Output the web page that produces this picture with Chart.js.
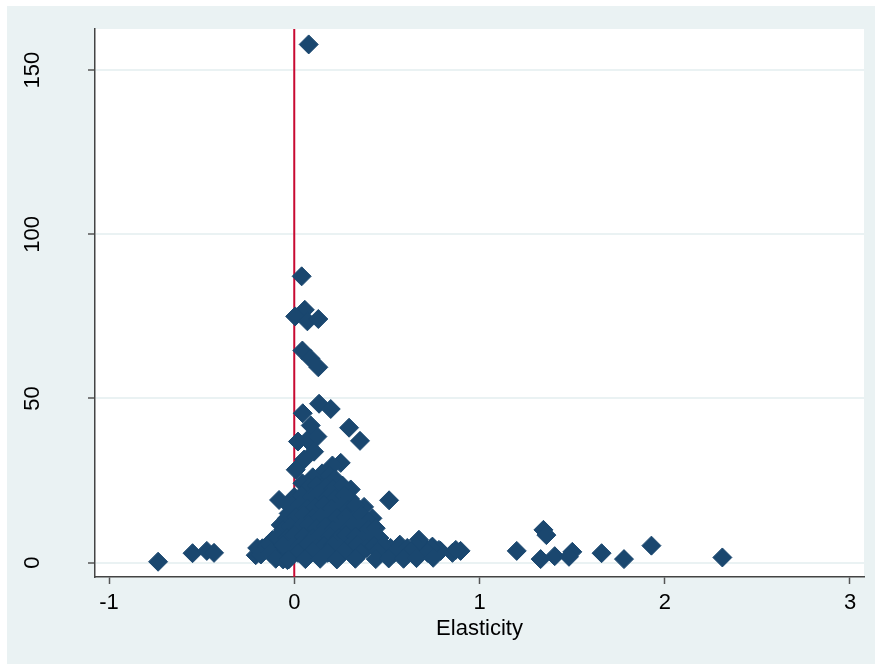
<!DOCTYPE html>
<html>
<head>
<meta charset="utf-8">
<script src="https://cdn.jsdelivr.net/npm/chart.js@4/dist/chart.umd.min.js"></script>
<style>
  html, body { margin: 0; padding: 0; background: #ffffff; }
  #wrap { width: 875px; height: 664px; }
</style>
</head>
<body>
<div id="wrap"><canvas id="c" width="875" height="664"></canvas></div>
<script>
// Elasticity (x) values
const elasticity = [
  0.078, 0.040, 0.057, 0.005, 0.071, 0.130, 0.044, 0.087, 0.130, 0.134,
  0.197, 0.046, 0.089, 0.296, 0.355, 0.071, 0.020, 0.125, 0.107, 0.053,
  0.008, 0.251, 0.206, 0.150, 0.044, 0.305, 0.512, 0.377, 0.422, -0.082,
  -0.073, -0.030,
  -0.735, -0.549, -0.472, -0.433, -0.208, -0.172, -0.118, -0.091, -0.037, -0.136, -0.118, -0.060,
  1.201, 1.345, 1.361, 1.330, 1.406, 1.501, 1.483, 1.659, 1.780, 1.928, 2.311,
  0.898, 0.854, 0.790, 0.683, 0.746, 0.673, 0.781, 0.872,
  0.10, 0.19, 0.22,
  0.08, 0.12, 0.17, 0.21, 0.26,
  0.00, 0.04, 0.09, 0.13, 0.18, 0.22, 0.27, 0.30,
  -0.02, 0.03, 0.07, 0.11, 0.16, 0.20, 0.25, 0.29, 0.33,
  -0.04, 0.01, 0.05, 0.10, 0.14, 0.19, 0.23, 0.28, 0.32, 0.36, 0.40,
  -0.06, -0.02, 0.03, 0.08, 0.12, 0.17, 0.21, 0.26, 0.30, 0.35, 0.40, 0.44,
  -0.09, -0.04, 0.00, 0.05, 0.10, 0.14, 0.19, 0.24, 0.28, 0.33, 0.37, 0.42, 0.46,
  -0.20, -0.15, -0.06, -0.02, 0.03, 0.07, 0.12, 0.16, 0.21, 0.25, 0.30, 0.34, 0.39, 0.43, 0.48, 0.52, 0.57, 0.61, 0.66, 0.70, 0.74,
  -0.18, -0.13, 0.02, 0.10, 0.18, 0.27, 0.36, 0.45, 0.54, 0.63, 0.72,
  -0.10, -0.03, 0.06, 0.14, 0.23, 0.33, 0.44, 0.51, 0.59, 0.66, 0.75
];
// Outcome (y) values
const outcome = [
  157.8, 87.2, 77.0, 75.0, 73.5, 74.2, 64.6, 62.2, 59.5, 48.4,
  46.8, 45.5, 41.8, 41.1, 37.1, 37.4, 36.9, 38.4, 33.8, 31.4,
  28.3, 30.4, 29.6, 27.2, 24.2, 22.3, 19.0, 17.0, 13.5, 19.1,
  11.5, 15.0,
  0.3, 2.9, 3.6, 3.0, 2.3, 4.4, 5.4, 2.3, 0.8, 3.9, 6.9, 1.0,
  3.6, 10.0, 8.4, 1.1, 2.0, 3.3, 1.8, 2.9, 1.1, 5.2, 1.6,
  3.6, 3.0, 3.6, 5.9, 4.9, 7.0, 3.9, 3.9,
  26.0, 26.5, 25.5,
  23.0, 23.5, 23.0, 22.5, 23.5,
  20.0, 20.5, 20.0, 21.0, 20.0, 19.5, 20.5, 19.5,
  17.0, 17.5, 16.5, 17.0, 17.5, 16.5, 17.0, 16.0, 17.5,
  13.5, 14.0, 14.5, 13.5, 14.0, 14.5, 13.5, 14.0, 13.0, 14.5, 12.5,
  10.0, 11.0, 10.5, 11.5, 10.5, 11.0, 10.0, 11.5, 10.5, 11.0, 10.0, 10.5,
  8.0, 7.5, 8.5, 8.0, 7.5, 8.5, 8.0, 7.5, 8.5, 8.0, 7.0, 8.0, 7.5,
  4.5, 5.0, 5.5, 4.5, 5.0, 5.5, 4.5, 5.0, 5.5, 4.5, 5.0, 5.5, 4.5, 5.0, 5.5, 4.5, 5.5, 4.5, 5.0, 4.0, 4.5,
  2.5, 3.0, 3.0, 3.5, 3.0, 3.5, 3.0, 3.5, 3.0, 3.5, 3.0,
  1.2, 1.0, 1.1, 1.2, 1.0, 1.2, 1.1, 1.3, 1.2, 1.4, 1.5
];
const xTicks = [-1, 0, 1, 2, 3];
const yTicks = [0, 50, 100, 150];
const xTitle = 'Elasticity';
const refLineX = 0;

const points = elasticity.map((e, i) => ({ x: e, y: outcome[i] }));

const FONT = "'Liberation Sans', Arial, sans-serif";
const BG = '#EAF2F3';

const bgPlugin = {
  id: 'bg',
  beforeDraw(chart) {
    const ctx = chart.ctx, a = chart.chartArea;
    ctx.save();
    ctx.fillStyle = '#ffffff';
    ctx.fillRect(0, 0, chart.width, chart.height);
    ctx.fillStyle = BG;
    ctx.fillRect(7, 6, chart.width - 7, chart.height - 6);
    ctx.fillStyle = '#ffffff';
    ctx.fillRect(a.left, a.top, a.right - a.left, a.bottom - a.top);
    ctx.restore();
  }
};

const refLinePlugin = {
  id: 'refline',
  beforeDatasetsDraw(chart) {
    const ctx = chart.ctx, a = chart.chartArea;
    const px = chart.scales.x.getPixelForValue(refLineX);
    ctx.save();
    ctx.strokeStyle = '#C80A32';
    ctx.lineWidth = 2;
    ctx.beginPath();
    ctx.moveTo(px, a.top);
    ctx.lineTo(px, a.bottom);
    ctx.stroke();
    ctx.restore();
  }
};

const yLabelPlugin = {
  id: 'ylabels',
  afterDraw(chart) {
    const ctx = chart.ctx;
    const ys = chart.scales.y;
    ctx.save();
    ctx.fillStyle = '#000000';
    ctx.font = '22px ' + FONT;
    ctx.textAlign = 'center';
    ctx.textBaseline = 'middle';
    yTicks.forEach(v => {
      const py = ys.getPixelForValue(v);
      ctx.save();
      ctx.translate(33, py);
      ctx.rotate(-Math.PI / 2);
      ctx.fillText(String(v), 0, 0);
      ctx.restore();
    });
    ctx.restore();
  }
};

new Chart(document.getElementById('c'), {
  type: 'scatter',
  data: {
    datasets: [{
      data: points,
      pointStyle: 'rectRot',
      pointRadius: 9.5,
      pointHoverRadius: 9.5,
      backgroundColor: '#1A476F',
      borderColor: '#1A476F',
      borderWidth: 1
    }]
  },
  options: {
    responsive: false,
    animation: false,
    events: [],
    layout: { padding: { top: 29, right: 11, left: 0, bottom: 0 } },
    plugins: {
      legend: { display: false },
      tooltip: { enabled: false }
    },
    scales: {
      x: {
        type: 'linear',
        min: -1.0756,
        max: 3.0756,
        afterBuildTicks(scale) { scale.ticks = xTicks.map(v => ({ value: v })); },
        afterFit(scale) { scale.height = 87; },
        grid: {
          drawOnChartArea: false,
          drawTicks: true,
          tickLength: 7,
          tickColor: '#555555',
          tickWidth: 1.5
        },
        border: { display: true, color: '#444444', width: 1.5 },
        ticks: {
          color: '#000000',
          font: { family: FONT, size: 22 },
          padding: 6,
          maxRotation: 0,
          minRotation: 0,
          callback: v => String(v)
        },
        title: {
          display: true,
          text: xTitle,
          color: '#000000',
          font: { family: FONT, size: 22 },
          padding: { top: 0, bottom: 22 }
        }
      },
      y: {
        type: 'linear',
        min: -4.35,
        max: 162.5,
        afterBuildTicks(scale) { scale.ticks = yTicks.map(v => ({ value: v })); },
        afterFit(scale) { scale.width = 95; },
        grid: {
          drawOnChartArea: true,
          color: BG,
          lineWidth: 2,
          drawTicks: true,
          tickLength: 7,
          tickColor: '#555555',
          tickWidth: 1.5
        },
        border: { display: true, color: '#444444', width: 1.5 },
        ticks: { display: false }
      }
    }
  },
  plugins: [bgPlugin, refLinePlugin, yLabelPlugin]
});
</script>
</body>
</html>
